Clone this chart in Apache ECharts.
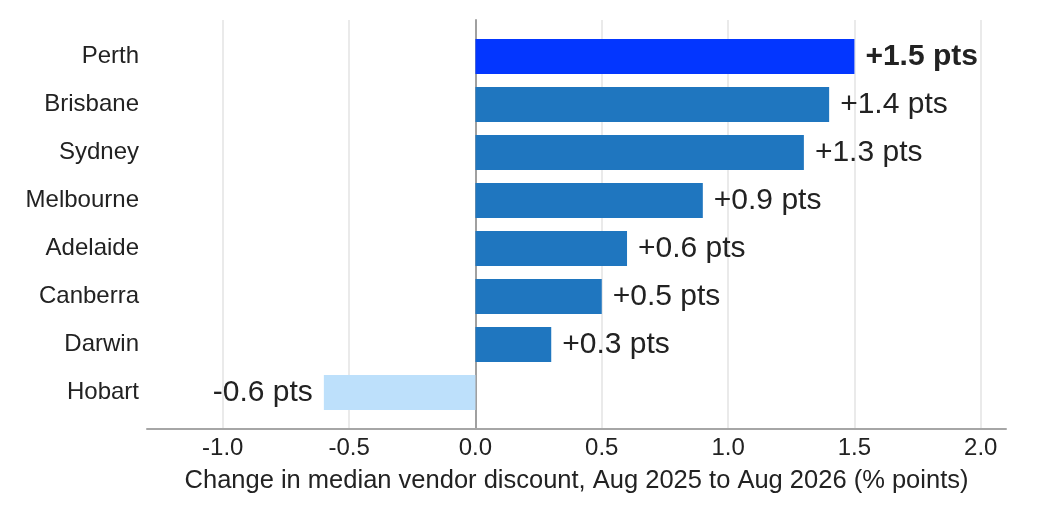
<!DOCTYPE html>
<html>
<head>
<meta charset="UTF-8">
<title>Vendor discount change</title>
<script src="https://cdn.jsdelivr.net/npm/echarts@6/dist/echarts.min.js"></script>
<style>
  html, body { margin: 0; padding: 0; background: #fff; }
</style>
</head>
<body>
	<div id="container" style="width:1046px;height:509px;"></div>
	<script type="text/javascript">
	var cities = ['Perth', 'Brisbane', 'Sydney', 'Melbourne', 'Adelaide', 'Canberra', 'Darwin', 'Hobart'];
	var changes = [1.5, 1.4, 1.3, 0.9, 0.6, 0.5, 0.3, -0.6];
	var tickValues = [-1.0, -0.5, 0.0, 0.5, 1.0, 1.5, 2.0];

	var font = 'Liberation Sans, Arial, sans-serif';
	var textColor = '#222';

	// highlight the top city, fade the negative one
	var barData = changes.map(function (v, i) {
		var color = '#1f76bf';
		if (i === 0) color = '#0336ff';
		if (v < 0) color = '#bde0fb';
		return {
			value: v,
			itemStyle: { color: color },
			label: {
				position: v < 0 ? 'left' : 'right',
				fontWeight: i === 0 ? 'bold' : 'normal'
			}
		};
	});

	var dom = document.getElementById('container');
	var myChart = echarts.init(dom);

	var option = {
		animation: false,
		textStyle: { fontFamily: font },
		grid: [
			{ left: 147, right: 40, top: 20, bottom: 80 },     // frame: gridlines, axis, zero line
			{ left: 147, right: 40, top: 32.5, bottom: 92.5 }  // bars
		],
		xAxis: [
			{
				gridIndex: 0,
				type: 'value',
				min: -1.3,
				max: 2.1,
				axisLine: { show: true, lineStyle: { color: '#a6a6a6', width: 2 } },
				axisTick: { show: false, customValues: tickValues },
				axisLabel: {
					customValues: tickValues,
					color: textColor,
					fontSize: 24,
					margin: 7,
					formatter: function (v) { return v.toFixed(1); }
				},
				splitLine: {
					show: true,
					customValues: tickValues,
					lineStyle: { color: '#e3e3e3', width: 1.5 }
				},
				name: 'Change in median vendor discount, Aug 2025 to Aug 2026 (% points)',
				nameLocation: 'middle',
				nameGap: 39,
				nameTextStyle: { color: textColor, fontSize: 25.5 }
			},
			{
				gridIndex: 1,
				type: 'value',
				min: -1.3,
				max: 2.1,
				show: false
			}
		],
		yAxis: [
			{
				gridIndex: 0,
				type: 'value',
				min: 0,
				max: 1,
				axisLine: { show: true, onZero: true, lineStyle: { color: '#a0a0a0', width: 2 } },
				axisTick: { show: false },
				axisLabel: { show: false },
				splitLine: { show: false }
			},
			{
				gridIndex: 1,
				type: 'category',
				data: cities,
				inverse: true,
				axisLine: { show: false },
				axisTick: { show: false },
				axisLabel: { color: textColor, fontSize: 24, margin: 8 }
			}
		],
		series: [
			{
				type: 'bar',
				xAxisIndex: 1,
				yAxisIndex: 1,
				data: barData,
				barCategoryGap: '27%',
				label: {
					show: true,
					distance: 11,
					color: textColor,
					fontSize: 30,
					formatter: function (p) {
						var v = p.value;
						return (v > 0 ? '+' : '') + v.toFixed(1) + ' pts';
					}
				}
			}
		]
	};

	myChart.setOption(option);
	</script>
</body>
</html>
